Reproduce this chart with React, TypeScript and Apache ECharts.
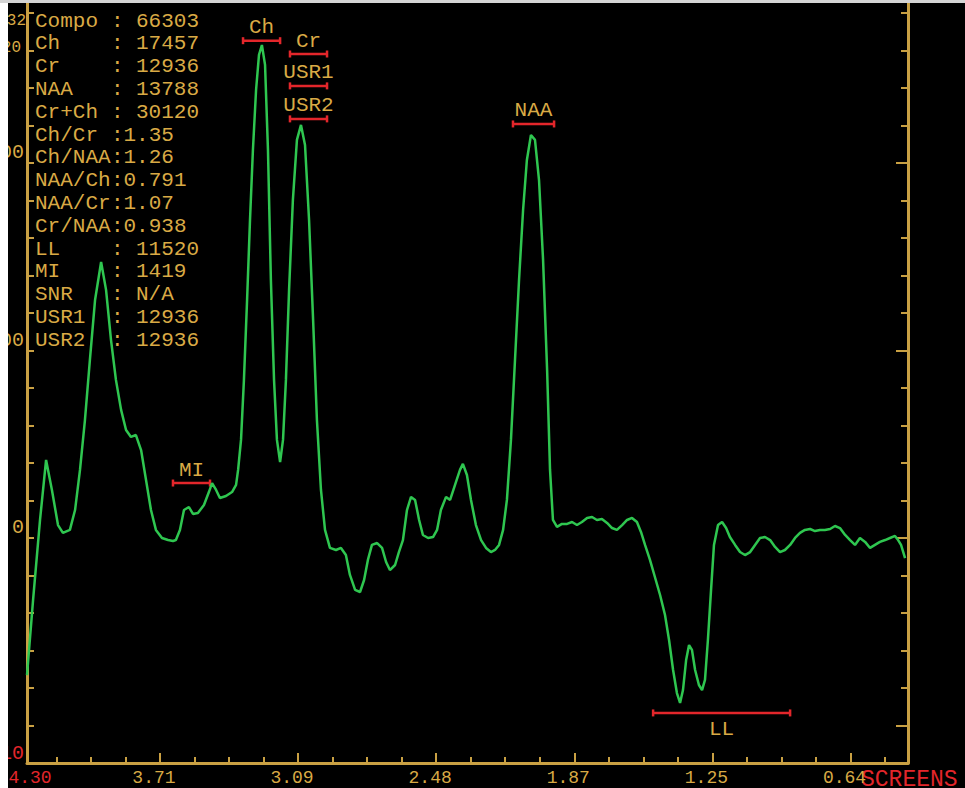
import React, { useEffect, useRef } from "react";
import * as echarts from "echarts";

// Chemical shift (ppm) of each traced point of the spectrum
const ppm = [
  4.302, 4.275, 4.244, 4.217, 4.191, 4.164, 4.142, 4.111, 4.088, 4.066,
  4.044, 4.022, 3.999, 3.972, 3.95, 3.928, 3.906, 3.883, 3.861, 3.839,
  3.817, 3.794, 3.772, 3.75, 3.728, 3.701, 3.674, 3.652, 3.639, 3.621,
  3.603, 3.581, 3.563, 3.541, 3.514, 3.492, 3.478, 3.46, 3.443, 3.416,
  3.389, 3.371, 3.362, 3.349, 3.336, 3.322, 3.309, 3.296, 3.282, 3.269,
  3.256, 3.242, 3.229, 3.216, 3.202, 3.189, 3.175, 3.162, 3.149, 3.135,
  3.118, 3.1, 3.082, 3.064, 3.046, 3.028, 3.011, 2.993, 2.975, 2.953,
  2.926, 2.904, 2.882, 2.864, 2.841, 2.819, 2.801, 2.784, 2.766, 2.743,
  2.721, 2.703, 2.686, 2.663, 2.646, 2.628, 2.61, 2.592, 2.574, 2.556,
  2.539, 2.516, 2.494, 2.476, 2.459, 2.436, 2.418, 2.396, 2.374, 2.361,
  2.343, 2.325, 2.303, 2.28, 2.258, 2.236, 2.218, 2.2, 2.182, 2.165,
  2.147, 2.129, 2.111, 2.093, 2.076, 2.058, 2.04, 2.022, 2.004, 1.986,
  1.973, 1.96, 1.942, 1.92, 1.897, 1.875, 1.853, 1.831, 1.808, 1.786,
  1.764, 1.742, 1.719, 1.697, 1.675, 1.652, 1.63, 1.608, 1.586, 1.568,
  1.55, 1.528, 1.506, 1.483, 1.461, 1.443, 1.425, 1.408, 1.394, 1.381,
  1.367, 1.354, 1.341, 1.327, 1.31, 1.296, 1.283, 1.27, 1.256, 1.243,
  1.225, 1.207, 1.189, 1.172, 1.149, 1.127, 1.105, 1.082, 1.06, 1.038,
  1.016, 0.993, 0.971, 0.949, 0.927, 0.904, 0.882, 0.86, 0.838, 0.815,
  0.793, 0.771, 0.749, 0.726, 0.704, 0.682, 0.659, 0.637, 0.615, 0.593,
  0.57, 0.548, 0.526, 0.504, 0.481, 0.459, 0.437, 0.423, 0.41, 0.392,
];

// Signal intensity at each point
const intensity = [
  -731, -331, 96, 416, 256, 69, 27, 43, 149, 363,
  629, 949, 1269, 1472, 1323, 1056, 843, 683, 576, 539,
  549, 469, 309, 149, 43, 0, -11, -16, -11, 43,
  149, 165, 128, 133, 176, 245, 293, 256, 213, 224,
  245, 283, 363, 523, 843, 1269, 1696, 2069, 2389, 2576,
  2629, 2523, 2069, 1376, 843, 523, 405, 523, 843, 1323,
  1803, 2123, 2203, 2096, 1696, 1163, 629, 256, 43, -53,
  -64, -53, -91, -197, -277, -288, -224, -117, -37, -27,
  -53, -128, -171, -144, -75, -11, 149, 219, 203, 96,
  16, 0, 5, 43, 149, 219, 203, 283, 363, 395,
  336, 203, 69, -11, -53, -75, -64, -37, 43, 203,
  523, 949, 1376, 1749, 2016, 2149, 2123, 1909, 1483, 896,
  363, 96, 59, 75, 75, 85, 69, 85, 107, 112,
  96, 101, 80, 53, 43, 69, 96, 107, 85, 32,
  -37, -117, -208, -304, -411, -544, -704, -827, -880, -811,
  -651, -571, -597, -704, -784, -811, -757, -544, -277, -37,
  69, 85, 53, 5, -37, -75, -91, -75, -37, 0,
  5, -11, -48, -75, -64, -37, 0, 27, 43, 48,
  37, 43, 43, 48, 64, 53, 16, -11, -37, 0,
  -21, -53, -37, -21, -11, 0, 11, -11, -37, -107,
];

// X axis (ppm, decreasing to the right)
const X_MIN = 0.379;
const X_MAX = 4.302;
const xMajorTicks = [3.71, 3.095, 2.48, 1.865, 1.25, 0.635];
const xMajorLabels = ["3.71", "3.09", "2.48", "1.87", "1.25", "0.64"];
const xStartLabel = "4.30";
const xMinorPerMajor = 4;

// Y axis
const Y_MIN = -1200;
const Y_MAX = 2853;
const yTickStep = 200;
const yMajorTicks = [-1000, 0, 1000, 2000];
const yLabelValues = [-1200, 0, 1000, 2000];
const yLabelTexts = ["10", "0", "1000", "2000"];

// Peak integration ranges
const peakNames = ["Ch", "Cr", "USR1", "USR2", "NAA", "MI", "LL"];
const peakFrom = [3.34, 3.131, 3.131, 3.131, 2.138, 3.652, 1.514];
const peakTo = [3.175, 2.966, 2.966, 2.966, 1.955, 3.487, 0.904];
const peakLevel = [2652, 2581, 2411, 2235, 2208, 293, -933];
const peakLabelSide = ["above", "above", "above", "above", "above", "above", "below"];

// Results panel
const infoNames = ["Compo", "Ch", "Cr", "NAA", "Cr+Ch", "Ch/Cr", "Ch/NAA", "NAA/Ch", "NAA/Cr", "Cr/NAA", "LL", "MI", "SNR", "USR1", "USR2"];
const infoValues = ["66303", "17457", "12936", "13788", "30120", "1.35", "1.26", "0.791", "1.07", "0.938", "11520", "1419", "N/A", "12936", "12936"];

const GOLD = "#d9aa45";
const AXIS = "#c9a043";
const RED = "#e3262b";
const GREEN = "#2fc650";
const MONO = '"Liberation Mono", "DejaVu Sans Mono", monospace';

function buildOption() {
  const majorStep = xMajorTicks[0] - xMajorTicks[1];
  const minorStep = majorStep / xMinorPerMajor;
  const xMinor: number[] = [];
  for (let k = -xMinorPerMajor; k <= xMajorTicks.length * xMinorPerMajor; k++) {
    if (k % xMinorPerMajor === 0) continue;
    const v = xMajorTicks[0] - k * minorStep;
    if (v > X_MIN && v < X_MAX) xMinor.push(v);
  }
  const yAll: number[] = [];
  for (let v = Y_MIN + yTickStep; v < Y_MAX; v += yTickStep) yAll.push(v);
  const yMinor = yAll.filter((v) => yMajorTicks.indexOf(v) < 0);

  const graphic: any[] = [];
  infoNames.forEach((name, i) => {
    const y = 18 + i * 22.8;
    const tight = infoValues[i].indexOf(".") >= 0 && !/^\d+$/.test(infoValues[i]);
    const base = { fill: GOLD, fontSize: 21, fontFamily: MONO, verticalAlign: "middle", textVerticalAlign: "middle" };
    graphic.push({ type: "text", x: 27, y, style: { ...base, text: name } });
    graphic.push({ type: "text", x: 103, y, style: { ...base, text: ":" } });
    graphic.push({ type: "text", x: tight ? 115.5 : 128, y, style: { ...base, text: infoValues[i] } });
  });
  graphic.push({ type: "text", x: 18, y: 18, style: { text: "0132", fill: GOLD, fontSize: 16, fontFamily: MONO, align: "right", textAlign: "right", verticalAlign: "middle", textVerticalAlign: "middle" } });
  graphic.push({ type: "text", x: 13, y: 45, style: { text: "20", fill: GOLD, fontSize: 16, fontFamily: MONO, align: "right", textAlign: "right", verticalAlign: "middle", textVerticalAlign: "middle" } });
  graphic.push({ type: "text", x: 853, y: 777, style: { text: "SCREENS", fill: RED, fontSize: 23, fontFamily: MONO, verticalAlign: "middle", textVerticalAlign: "middle" } });

  const xFormatter = (v: number) => {
    if (Math.abs(v - X_MAX) < 1e-6) return `{r|${xStartLabel}}`;
    const i = xMajorTicks.findIndex((t) => Math.abs(t - v) < 1e-6);
    return i >= 0 ? `{y|${xMajorLabels[i]}}` : "";
  };
  const yFormatter = (v: number) => {
    const i = yLabelValues.findIndex((t) => Math.abs(t - v) < 1e-6);
    if (i < 0) return "";
    return v === Y_MIN ? `{r|${yLabelTexts[i]}}` : `{y|${yLabelTexts[i]}}`;
  };

  const lineAxis = { show: true, onZero: false, lineStyle: { color: AXIS, width: 3 } };

  return {
    animation: false,
    backgroundColor: "#000",
    grid: { left: 19, right: 57, top: 0, bottom: 25, containLabel: false, outerBoundsMode: "none" },
    xAxis: [
      {
        type: "value", min: X_MIN, max: X_MAX, inverse: true, position: "bottom",
        axisLine: lineAxis,
        axisTick: { show: true, inside: true, length: 10, customValues: xMajorTicks, lineStyle: { color: AXIS, width: 2 } },
        axisLabel: {
          show: true, customValues: [X_MAX, ...xMajorTicks], formatter: xFormatter, margin: 6,
          rich: {
            r: { color: RED, fontSize: 18, fontFamily: MONO, padding: [0, 0, 0, 6] },
            y: { color: GOLD, fontSize: 18, fontFamily: MONO, padding: [0, 12, 0, 0] },
          },
        },
        splitLine: { show: false },
      },
      {
        type: "value", min: X_MIN, max: X_MAX, inverse: true, position: "bottom",
        axisLine: { show: false, onZero: false },
        axisTick: { show: true, inside: true, length: 6, customValues: xMinor, lineStyle: { color: AXIS, width: 2 } },
        axisLabel: { show: false },
        splitLine: { show: false },
      },
    ],
    yAxis: [
      {
        type: "value", min: Y_MIN, max: Y_MAX, position: "left",
        axisLine: lineAxis,
        axisTick: { show: true, inside: true, length: 7, customValues: yAll, lineStyle: { color: AXIS, width: 2 } },
        axisLabel: {
          show: true, customValues: yLabelValues, formatter: yFormatter, margin: 3, padding: [0, 0, 20, 0],
          rich: {
            r: { color: RED, fontSize: 20, fontFamily: MONO },
            y: { color: GOLD, fontSize: 20, fontFamily: MONO },
          },
        },
        splitLine: { show: false },
      },
      {
        type: "value", min: Y_MIN, max: Y_MAX, position: "right",
        axisLine: lineAxis,
        axisTick: { show: true, inside: true, length: 7, customValues: yMinor, lineStyle: { color: AXIS, width: 2 } },
        axisLabel: { show: false },
        splitLine: { show: false },
      },
      {
        type: "value", min: Y_MIN, max: Y_MAX, position: "right",
        axisLine: { show: false, onZero: false },
        axisTick: { show: true, inside: true, length: 12, customValues: yMajorTicks, lineStyle: { color: AXIS, width: 2 } },
        axisLabel: { show: false },
        splitLine: { show: false },
      },
    ],
    series: [
      {
        type: "line",
        xAxisIndex: 0,
        yAxisIndex: 0,
        data: ppm.map((p, i) => [p, intensity[i]]),
        showSymbol: false,
        symbol: "none",
        lineStyle: { color: GREEN, width: 2.5 },
        silent: true,
      },
      {
        type: "custom",
        xAxisIndex: 0,
        yAxisIndex: 0,
        encode: { x: [0, 1], y: 2 },
        data: peakNames.map((_, i) => [peakFrom[i], peakTo[i], peakLevel[i], i]),
        renderItem: (params: any, api: any) => {
          const i = api.value(3);
          const a = api.coord([api.value(0), api.value(2)]);
          const b = api.coord([api.value(1), api.value(2)]);
          const y = a[1];
          const ly = peakLabelSide[i] === "above" ? y - 13 : y + 17;
          const stroke = { stroke: RED, lineWidth: 2.5 };
          return {
            type: "group",
            children: [
              { type: "line", shape: { x1: a[0], y1: y, x2: b[0], y2: y }, style: stroke },
              { type: "line", shape: { x1: a[0], y1: y - 3.5, x2: a[0], y2: y + 3.5 }, style: stroke },
              { type: "line", shape: { x1: b[0], y1: y - 3.5, x2: b[0], y2: y + 3.5 }, style: stroke },
              {
                type: "text",
                style: {
                  text: peakNames[i], x: (a[0] + b[0]) / 2, y: ly, fill: GOLD, fontSize: 21, fontFamily: MONO,
                  align: "center", textAlign: "center", verticalAlign: "middle", textVerticalAlign: "middle",
                },
              },
            ],
          };
        },
      },
    ],
    graphic,
  };
}

export default function App() {
  const ref = useRef<HTMLDivElement>(null);
  useEffect(() => {
    if (!ref.current) return;
    const chart = echarts.init(ref.current, null, { renderer: "svg" });
    chart.setOption(buildOption() as any);
    return () => chart.dispose();
  }, []);
  return (
    <>
      <div style={{ position: "absolute", left: 0, top: 0, width: 965, height: 3, background: "#d4d4d4" }} />
      <div
        ref={ref}
        style={{ position: "absolute", left: 8, top: 3, width: 957, height: 785, background: "#000", overflow: "hidden" }}
      />
    </>
  );
}
